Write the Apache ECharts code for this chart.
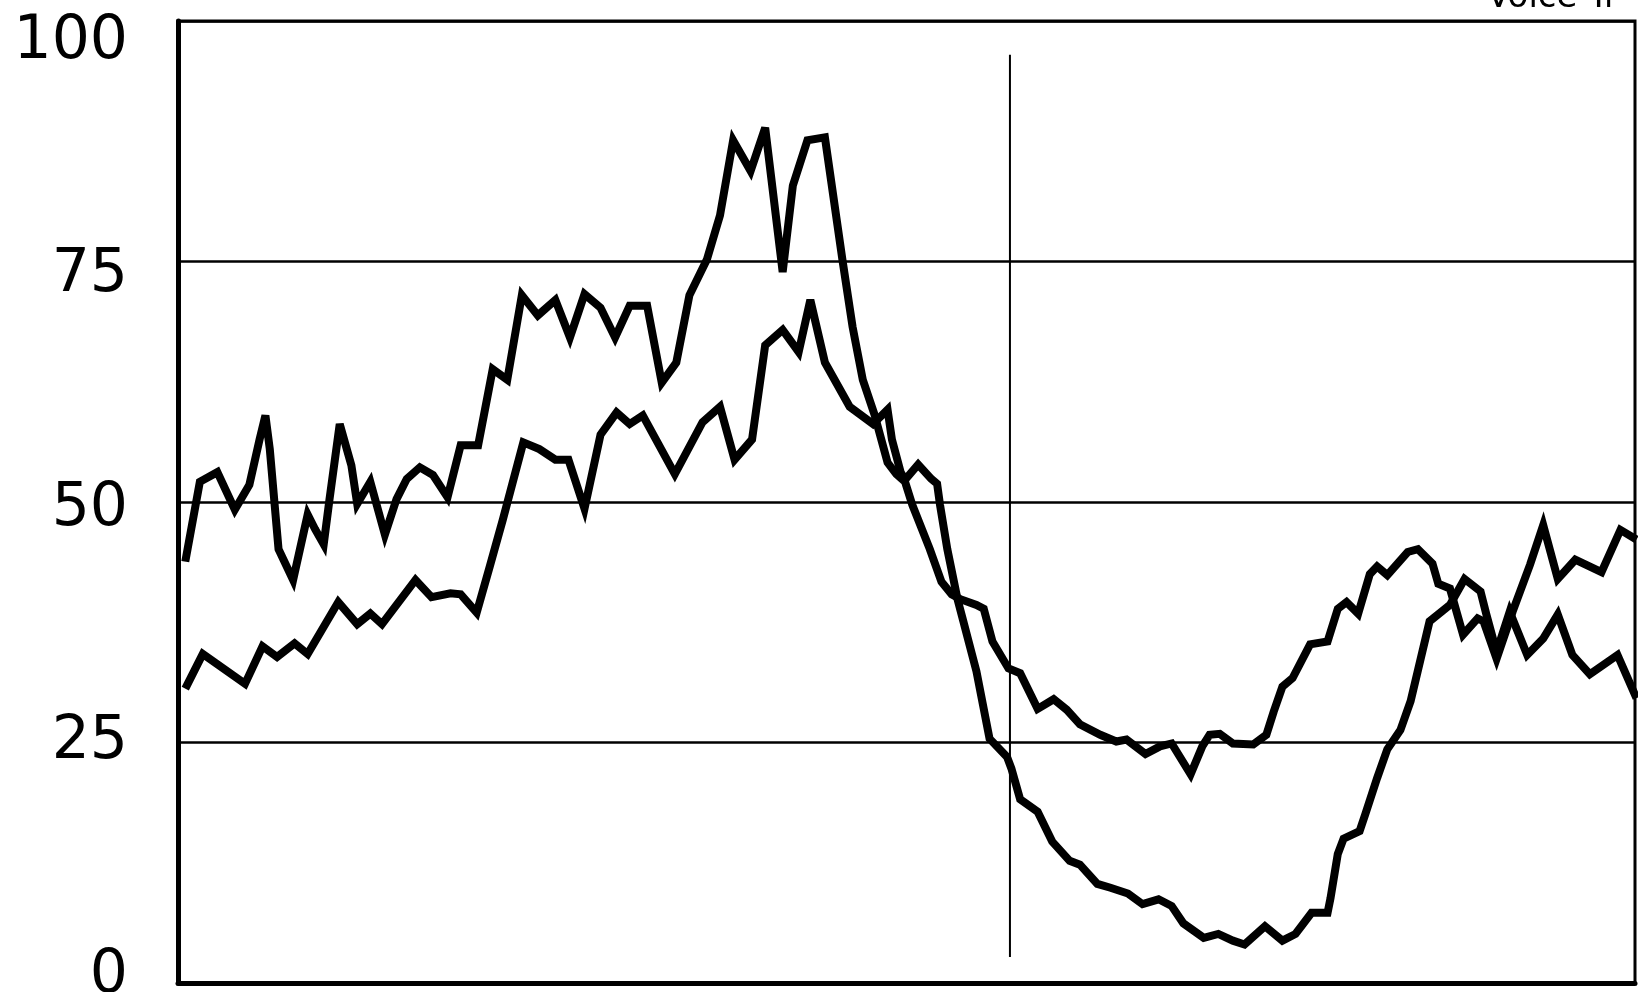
<!DOCTYPE html>
<html>
<head>
<meta charset="utf-8">
<script src="https://cdn.jsdelivr.net/npm/echarts@6/dist/echarts.min.js"></script>
<style>
html,body{margin:0;padding:0;background:#fff;}
#chart{width:1638px;height:992px;}
</style>
</head>
<body>
<div id="chart"></div>
<script>
// Y axis tick labels
const yTicks = [0, 25, 50, 75, 100];
// Title fragment visible at top right
const titleText = 'Voice Tr';
// Series A: [time (% of span), value]
const seriesA = [
[0.5,43.8],[1.5,52.1],[2.7,53.1],[3.9,49.2],[4.9,51.8],[5.6,56.5],[6.0,59.0],[6.3,55.5],[6.9,45.1],[7.9,41.9],
[8.9,48.7],[9.4,47.2],[10.0,45.6],[10.4,50.3],[11.1,58.1],[11.9,53.8],[12.3,49.8],[13.2,52.1],[14.2,46.6],[15.0,50.3],
[15.7,52.4],[16.6,53.6],[17.5,52.8],[18.5,50.5],[19.4,55.9],[20.6,55.9],[21.6,63.8],[22.6,62.7],[23.6,71.5],[24.7,69.4],
[25.9,71.0],[26.9,67.1],[27.9,71.6],[29.0,70.2],[30.0,67.1],[31.0,70.4],[32.2,70.4],[33.2,62.4],[34.2,64.5],[35.1,71.5],
[36.3,75.2],[37.2,79.8],[38.1,87.6],[39.3,84.4],[40.3,88.9],[41.5,73.9],[42.2,82.9],[43.2,87.6],[44.4,87.9],[45.6,75.2],
[46.3,68.2],[47.0,62.7],[47.8,59.1],[48.7,54.1],[49.3,52.9],[49.9,52.1],[50.4,49.7],[51.6,45.1],[52.4,41.7],[53.1,40.4],
[53.7,39.9],[54.8,39.3],[55.3,38.9],[55.9,35.5],[57.0,32.7],[57.8,32.2],[59.0,28.5],[60.1,29.5],[61.0,28.4],[61.9,26.9],
[63.3,25.8],[64.4,25.1],[65.1,25.3],[66.4,23.8],[67.4,24.6],[68.2,24.9],[69.5,21.7],[70.3,24.6],[70.8,25.8],[71.5,25.9],
[72.4,24.9],[73.8,24.8],[74.7,25.8],[75.2,28.2],[75.8,30.8],[76.5,31.7],[77.7,35.2],[78.9,35.5],[79.6,38.9],[80.2,39.6],
[81.0,38.4],[81.8,42.5],[82.3,43.3],[83.0,42.4],[84.4,44.8],[85.1,45.1],[86.1,43.6],[86.5,41.5],[87.3,41.0],[88.2,36.2],
[89.2,37.9],[89.6,37.6],[90.5,33.7],[91.6,38.6],[92.8,43.5],[93.7,47.6],[94.7,42.0],[95.9,44.0],[97.7,42.7],[99.0,47.1],
[100.1,46.1]
];
// Series B: [time (% of span), value]
const seriesB = [
[0.5,30.6],[1.7,34.2],[4.6,31.1],[5.8,35.0],[6.8,33.9],[8.0,35.3],[8.9,34.2],[11.0,39.6],[12.3,37.3],[13.2,38.4],
[14.0,37.3],[16.3,41.9],[17.4,40.1],[18.7,40.5],[19.4,40.4],[20.5,38.5],[21.4,43.3],[22.3,48.2],[23.7,56.2],[24.8,55.5],
[25.9,54.4],[26.8,54.4],[27.9,49.3],[29.0,57.0],[30.1,59.3],[31.0,58.1],[31.9,59.0],[34.1,52.9],[36.0,58.3],[37.2,59.9],
[38.2,54.4],[39.4,56.5],[40.3,66.3],[41.5,67.9],[42.6,65.6],[43.4,71.0],[44.4,64.5],[46.1,59.9],[47.7,58.1],[48.7,59.6],
[49.0,56.5],[49.6,53.1],[49.9,52.3],[50.8,53.9],[51.7,52.4],[52.1,51.9],[52.3,49.7],[52.8,45.1],[53.5,39.9],[53.9,37.6],
[54.8,32.4],[55.7,25.4],[56.9,23.5],[57.2,22.3],[57.8,19.1],[59.0,17.8],[60.0,14.7],[61.2,12.7],[61.9,12.3],[63.1,10.3],
[64.0,9.9],[65.2,9.3],[66.2,8.2],[67.3,8.7],[68.2,8.0],[69.0,6.2],[70.4,4.7],[71.4,5.1],[72.4,4.4],[73.2,4.0],
[74.6,5.9],[75.8,4.4],[76.7,5.1],[77.8,7.3],[78.9,7.3],[79.1,8.8],[79.6,13.4],[80.0,15.0],[81.1,15.8],[81.5,17.6],
[82.3,21.3],[83.0,24.3],[83.9,26.3],[84.6,29.3],[85.9,37.6],[87.3,39.3],[88.3,42.0],[89.4,40.7],[89.8,38.3],[90.5,34.4],
[91.4,38.6],[92.6,34.1],[93.7,35.8],[94.7,38.3],[95.7,34.1],[96.9,32.1],[98.8,34.1],[100.1,29.6]
];
// Vertical marker line
const markerT = 57.1;
const markerRange = [96.5, 2.7];

const chart = echarts.init(document.getElementById('chart'), null, {renderer: 'canvas'});
const lineStyleMain = {color: '#000', width: 8, join: 'miter', miterLimit: 4};
chart.setOption({
  backgroundColor: '#fff',
  animation: false,
  graphic: [{
    type: 'text', left: 1487, top: -19, z: 100,
    style: {text: titleText, font: '34px "DejaVu Sans"', fill: '#000'}
  }],
  grid: [
    {left: 178, right: 3, top: 21, bottom: 9, show: true, borderColor: '#000', borderWidth: 3, outerBoundsMode: 'none'},
    {left: 178, right: 3, top: 42, bottom: 16, show: false, outerBoundsMode: 'none'}
  ],
  xAxis: [
    {type: 'value', gridIndex: 0, min: 0, max: 100, show: true,
     axisLine: {show: true, onZero: false, lineStyle: {color: '#000', width: 5}},
     axisTick: {show: false}, axisLabel: {show: false}, splitLine: {show: false}},
    {type: 'value', gridIndex: 1, min: 0, max: 100, show: false}
  ],
  yAxis: [
    {type: 'value', gridIndex: 0, min: 0, max: 100, interval: 25,
     axisLine: {show: true, lineStyle: {color: '#000', width: 5}},
     axisTick: {show: false}, axisLabel: {show: false},
     splitLine: {show: true, lineStyle: {color: '#000', width: 2.5}}},
    {type: 'value', gridIndex: 1, min: 0, max: 100, interval: 25,
     axisLine: {show: false}, axisTick: {show: false}, splitLine: {show: false},
     axisLabel: {show: true, margin: 50, color: '#000', fontSize: 60, fontFamily: '"DejaVu Sans"',
       formatter: function (v) { return yTicks.indexOf(v) >= 0 ? String(v) : ''; }}}
  ],
  series: [
    {type: 'line', xAxisIndex: 0, yAxisIndex: 0, data: [[markerT, markerRange[0]], [markerT, markerRange[1]]],
     symbol: 'none', lineStyle: {color: '#000', width: 2}, z: 1},
    {type: 'line', xAxisIndex: 0, yAxisIndex: 0, data: seriesA, symbol: 'none', lineStyle: lineStyleMain, z: 3},
    {type: 'line', xAxisIndex: 0, yAxisIndex: 0, data: seriesB, symbol: 'none', lineStyle: lineStyleMain, z: 3},
    {type: 'line', xAxisIndex: 1, yAxisIndex: 1, data: [], symbol: 'none'}
  ]
});
</script>
</body>
</html>
